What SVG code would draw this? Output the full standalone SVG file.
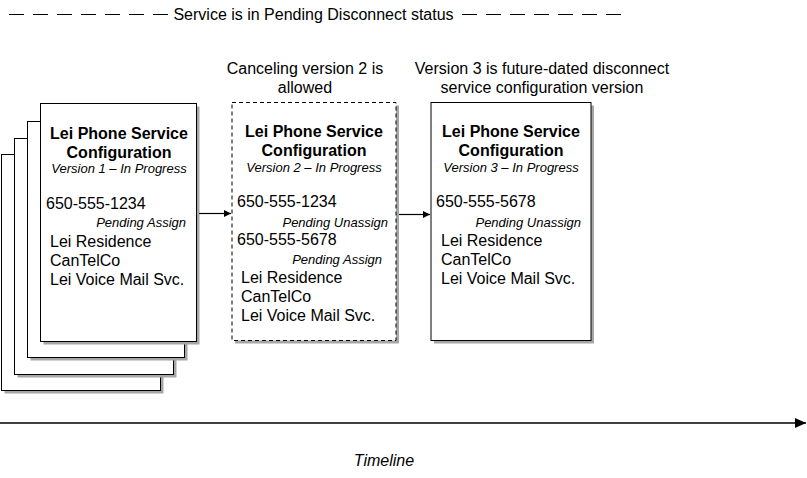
<svg xmlns="http://www.w3.org/2000/svg" width="807" height="478" viewBox="0 0 807 478">
<defs>
<style>
text{font-family:"Liberation Sans",Arial,sans-serif;fill:#000}
.t{font-size:16px;font-weight:bold;text-anchor:middle}
.v{font-size:13px;font-style:italic;text-anchor:middle}
.p{font-size:13px;font-style:italic;text-anchor:end}
.n{font-size:16px}
.c{font-size:16px;text-anchor:middle}
.box{fill:#fff;stroke:#000;stroke-width:1}
.sh{fill:#a6a6a6}
.dash{stroke:#000;stroke-width:1;stroke-dasharray:15 9;fill:none}
.ln{stroke:#000;stroke-width:1.2;fill:none}
</style>
<marker id="ah" markerWidth="8" markerHeight="8" refX="7" refY="4" orient="auto" markerUnits="userSpaceOnUse">
<path d="M0,0.5 L7,4 L0,7.5 Z" fill="#000"/>
</marker>
<marker id="ah2" markerWidth="12" markerHeight="12" refX="11" refY="6" orient="auto" markerUnits="userSpaceOnUse">
<path d="M0,1 L11,6 L0,11 Z" fill="#000"/>
</marker>
</defs>

<g id="status">
<line class="dash" x1="9" y1="14.5" x2="168" y2="14.5"/>
<text class="n" x="313.5" y="20" text-anchor="middle">Service is in Pending Disconnect status</text>
<line class="dash" x1="462" y1="14.5" x2="621" y2="14.5"/>
</g>

<g id="caption2">
<text class="c" x="305" y="74">Canceling version 2 is</text>
<text class="c" x="305" y="93">allowed</text>
</g>
<g id="caption3">
<text class="c" x="542" y="74">Version 3 is future-dated disconnect</text>
<text class="c" x="542" y="93">service configuration version</text>
</g>

<g id="version1">
<rect class="sh" x="4.5" y="157.5" width="159" height="236"/>
<rect class="box" x="1.5" y="154.5" width="159" height="236"/>
<rect class="sh" x="17.5" y="141.5" width="159" height="236"/>
<rect class="box" x="14.5" y="138.5" width="159" height="236"/>
<rect class="sh" x="30.5" y="124.5" width="157" height="236"/>
<rect class="box" x="27.5" y="121.5" width="157" height="236"/>
<rect class="sh" x="43.5" y="106.5" width="156" height="238"/>
<rect class="box" x="40.5" y="103.5" width="156" height="238"/>
<text class="t" x="119" y="139">Lei Phone Service</text>
<text class="t" x="119" y="158">Configuration</text>
<text class="v" x="119" y="173">Version 1 – In Progress</text>
<text class="n" x="46" y="209">650-555-1234</text>
<text class="p" x="186" y="227">Pending Assign</text>
<text class="n" x="50" y="247">Lei Residence</text>
<text class="n" x="50" y="266">CanTelCo</text>
<text class="n" x="50" y="285">Lei Voice Mail Svc.</text>
</g>

<g id="version2">
<rect class="sh" x="235" y="105.5" width="164" height="238"/>
<rect class="box" x="232" y="102.5" width="164" height="238" stroke-dasharray="4 3"/>
<text class="t" x="314" y="137">Lei Phone Service</text>
<text class="t" x="314" y="156">Configuration</text>
<text class="v" x="314" y="172">Version 2 – In Progress</text>
<text class="n" x="237" y="207">650-555-1234</text>
<text class="p" x="388" y="227">Pending Unassign</text>
<text class="n" x="237" y="245">650-555-5678</text>
<text class="p" x="382" y="264">Pending Assign</text>
<text class="n" x="241" y="283">Lei Residence</text>
<text class="n" x="241" y="302">CanTelCo</text>
<text class="n" x="241" y="321">Lei Voice Mail Svc.</text>
</g>

<g id="version3">
<rect class="sh" x="434" y="105.5" width="160" height="238"/>
<rect class="box" x="431" y="102.5" width="160" height="238"/>
<text class="t" x="511" y="137">Lei Phone Service</text>
<text class="t" x="511" y="156">Configuration</text>
<text class="v" x="511" y="172">Version 3 – In Progress</text>
<text class="n" x="436" y="207">650-555-5678</text>
<text class="p" x="581" y="227">Pending Unassign</text>
<text class="n" x="441" y="246">Lei Residence</text>
<text class="n" x="441" y="265">CanTelCo</text>
<text class="n" x="441" y="284">Lei Voice Mail Svc.</text>
</g>

<g id="connectors">
<line class="ln" x1="199" y1="213.5" x2="231" y2="213.5" marker-end="url(#ah)"/>
<line class="ln" x1="399" y1="214.5" x2="430" y2="214.5" marker-end="url(#ah)"/>
<line x1="0" y1="423" x2="806" y2="423" stroke="#000" stroke-width="1.6" marker-end="url(#ah2)"/>
</g>

<g id="timeline">
<text class="c" x="384" y="466" font-style="italic">Timeline</text>
</g>
</svg>
